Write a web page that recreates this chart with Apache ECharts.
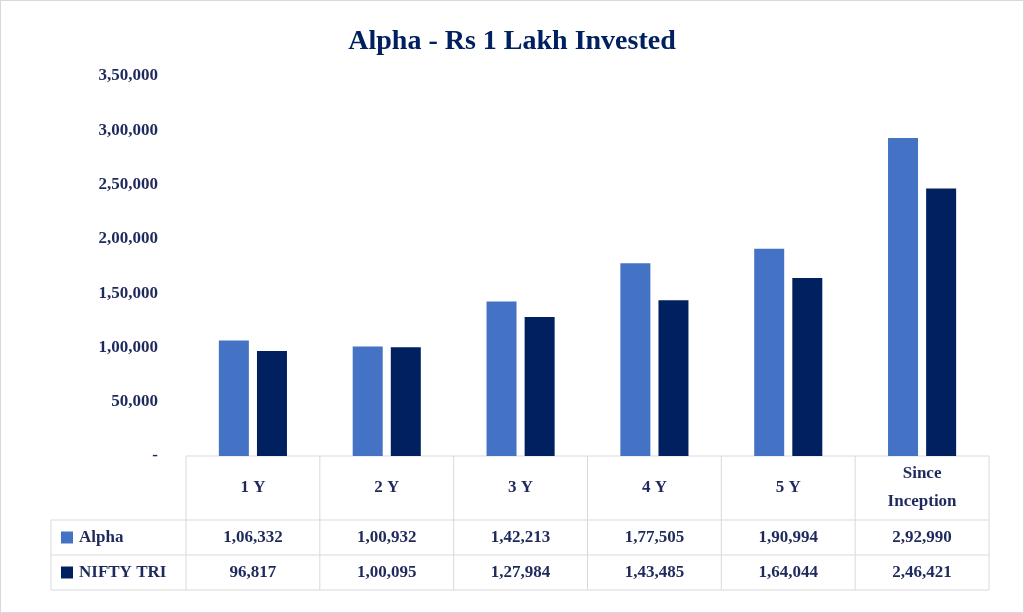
<!DOCTYPE html>
<html>
<head>
<meta charset="utf-8">
<script src="https://cdn.jsdelivr.net/npm/echarts@6/dist/echarts.min.js"></script>
<style>
  html, body { margin: 0; padding: 0; background: #fff; }
  #chart { width: 1024px; height: 613px; box-sizing: border-box; border: 1px solid #d9d9d9; }
</style>
</head>
<body>
<div id="chart"></div>
<script>
var categories = ['1 Y', '2 Y', '3 Y', '4 Y', '5 Y', 'Since\nInception'];
var alphaValues = [106332, 100932, 142213, 177505, 190994, 292990];
var niftyValues = [96817, 100095, 127984, 143485, 164044, 246421];
var seriesNames = ['Alpha', 'NIFTY TRI'];
var seriesColors = ['#4472C4', '#002060'];

var FONT = 'Liberation Serif';
var TEXT = '#1F2A5C';
var LINE = '#d9d9d9';

// 1,06,332 style
function indian(n) {
    if (n === 0) return '-';
    var s = String(Math.round(n));
    if (s.length <= 3) return s;
    var last = s.slice(-3), rest = s.slice(0, -3);
    rest = rest.replace(/\B(?=(\d{2})+(?!\d))/g, ',');
    return rest + ',' + last;
}

var myChart = echarts.init(document.getElementById('chart'));
var option = {
    animation: false,
    title: {
        text: 'Alpha - Rs 1 Lakh Invested',
        left: 'center',
        top: 22,
        textStyle: { fontFamily: FONT, fontSize: 28, fontWeight: 'bold', color: '#002060' }
    },
    grid: { left: 185, right: 34, top: 75, bottom: 156 },
    xAxis: {
        type: 'category',
        data: categories,
        axisLine: { show: false },
        axisTick: { show: false },
        axisLabel: { show: false }
    },
    yAxis: {
        type: 'value',
        min: 0, max: 350000, interval: 50000,
        splitLine: { show: false },
        axisLine: { show: false },
        axisTick: { show: false },
        axisLabel: {
            margin: 28,
            fontFamily: FONT, fontSize: 17, fontWeight: 'bold', color: TEXT,
            formatter: indian
        }
    },
    series: [{
        name: seriesNames[0], type: 'bar', data: alphaValues,
        barWidth: 30, barGap: '27%',
        itemStyle: { color: seriesColors[0] }
    }, {
        name: seriesNames[1], type: 'bar', data: niftyValues,
        barWidth: 30,
        itemStyle: { color: seriesColors[1] }
    }]
};
myChart.setOption(option);

// data table under the plot
function buildTable() {
    var y0 = myChart.convertToPixel({ yAxisIndex: 0 }, 0);
    var rowH = [64, 35, 35];
    var y1 = y0 + rowH[0], y2 = y1 + rowH[1], y3 = y2 + rowH[2];
    var c0 = myChart.convertToPixel({ xAxisIndex: 0 }, categories[0]);
    var c1 = myChart.convertToPixel({ xAxisIndex: 0 }, categories[1]);
    var step = c1 - c0;
    var xStart = c0 - step / 2;
    var xEnd = xStart + step * categories.length;
    var xLeft = 50;
    var els = [];
    function line(x1, yA, x2, yB) {
        els.push({ type: 'line', shape: { x1: x1, y1: yA, x2: x2, y2: yB }, style: { stroke: LINE, lineWidth: 1 } });
    }
    function text(t, x, y, align) {
        els.push({ type: 'text', x: x, y: y, style: {
            text: t, align: align || 'center', verticalAlign: 'middle',
            font: 'bold 17px "' + FONT + '"', fill: TEXT, lineHeight: 28
        } });
    }
    line(xStart, y0, xEnd, y0);
    line(xLeft, y1, xEnd, y1);
    line(xLeft, y2, xEnd, y2);
    line(xLeft, y3, xEnd, y3);
    line(xLeft, y1, xLeft, y3);
    for (var i = 0; i <= categories.length; i++) {
        line(xStart + step * i, y0, xStart + step * i, y3);
    }
    var rows = [alphaValues, niftyValues];
    for (var j = 0; j < categories.length; j++) {
        var cx = xStart + step * (j + 0.5);
        text(categories[j], cx, (y0 + y1) / 2);
        for (var r = 0; r < rows.length; r++) {
            text(indian(rows[r][j]), cx, r === 0 ? (y1 + y2) / 2 : (y2 + y3) / 2);
        }
    }
    for (var k = 0; k < seriesNames.length; k++) {
        var cy = k === 0 ? (y1 + y2) / 2 : (y2 + y3) / 2;
        els.push({ type: 'rect', shape: { x: 60, y: cy - 6, width: 12, height: 12 }, style: { fill: seriesColors[k] } });
        text(seriesNames[k], 78, cy, 'left');
    }
    myChart.setOption({ graphic: els });
}
buildTable();
</script>
</body>
</html>
